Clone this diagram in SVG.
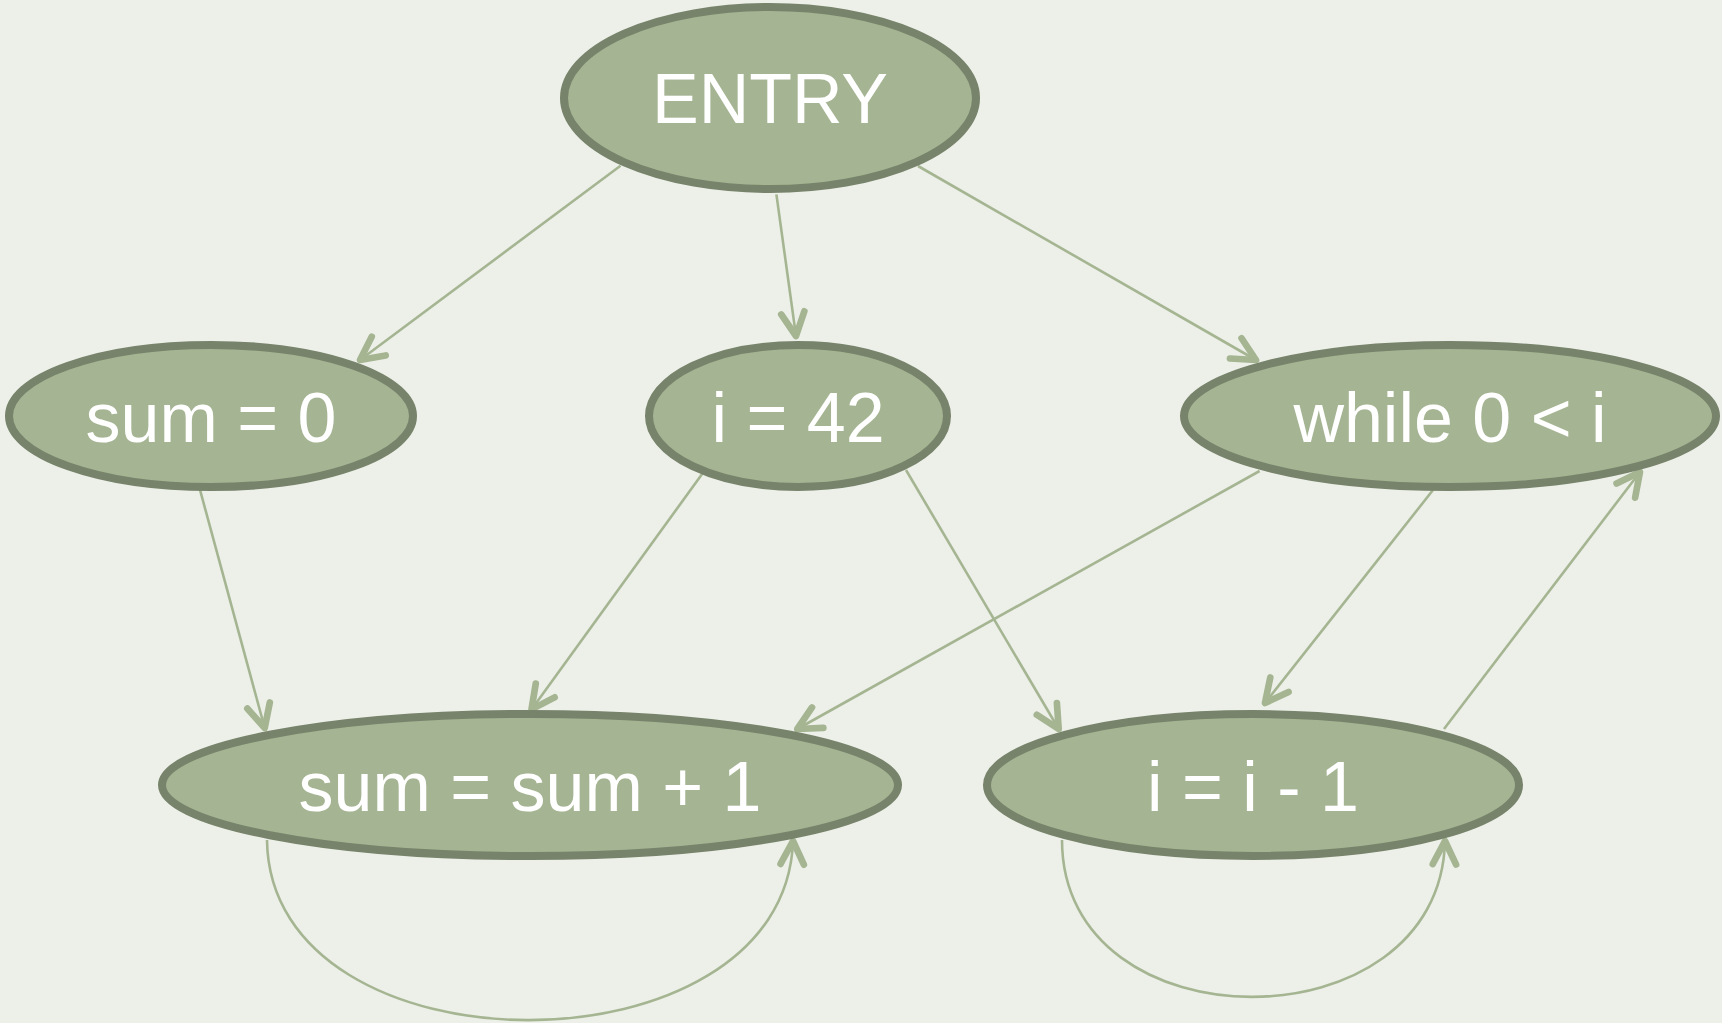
<svg xmlns="http://www.w3.org/2000/svg" width="1722" height="1023" viewBox="0 0 1722 1023">
<style>
.bg{fill:#edf0e9}
.node ellipse{fill:#a5b492;stroke:#77836a;stroke-width:8}
.node text{fill:#ffffff;font-family:"Liberation Sans",Arial,sans-serif;font-size:70px;text-anchor:middle}
.edge{fill:none;stroke:#a5b592;stroke-width:2.6;marker-end:url(#vee)}
</style>
<defs>
<marker id="vee" markerUnits="userSpaceOnUse" markerWidth="40" markerHeight="40" viewBox="-20 -12 24 24" refX="0" refY="0" orient="auto" overflow="visible">
<path d="M-14,-7 L0,0 L-14,7" fill="none" stroke="#a5b592" stroke-width="4" stroke-linecap="round" stroke-linejoin="round"/>
</marker>
</defs>
<rect class="bg" x="0" y="0" width="1722" height="1023"/>
<g id="connectors">
<path class="edge" d="M620.5,165.8 L360,360"/>
<path class="edge" d="M776.4,194.4 L796,336"/>
<path class="edge" d="M918,166 L1256,360"/>
<path class="edge" d="M198.8,485.4 L264.7,728"/>
<path class="edge" d="M705,470 L531.5,709.4"/>
<path class="edge" d="M906,470 L1058.7,729"/>
<path class="edge" d="M1259.6,471 L797.3,729"/>
<path class="edge" d="M1433,490 L1265,703"/>
<path class="edge" d="M1444,729 L1640,472"/>
<path class="edge" d="M267,840 C270,1080 785,1080 793,841"/>
<path class="edge" d="M1062,840 C1062,1049 1440,1049 1445,841"/>
</g>
<g id="node-entry" class="node">
<ellipse cx="770" cy="98" rx="206" ry="91"/>
<text x="770" y="123">ENTRY</text>
</g>
<g id="node-sum0" class="node">
<ellipse cx="211" cy="416" rx="202" ry="71"/>
<text x="211" y="442">sum = 0</text>
</g>
<g id="node-i42" class="node">
<ellipse cx="798" cy="416" rx="149" ry="71"/>
<text x="798" y="442">i = 42</text>
</g>
<g id="node-while" class="node">
<ellipse cx="1450" cy="416" rx="266" ry="71"/>
<text x="1450" y="442">while 0 &lt; i</text>
</g>
<g id="node-sumsum" class="node">
<ellipse cx="530" cy="785" rx="368" ry="71"/>
<text x="530" y="811">sum = sum + 1</text>
</g>
<g id="node-idec" class="node">
<ellipse cx="1253" cy="785" rx="266" ry="71"/>
<text x="1253" y="811">i = i - 1</text>
</g>
</svg>
